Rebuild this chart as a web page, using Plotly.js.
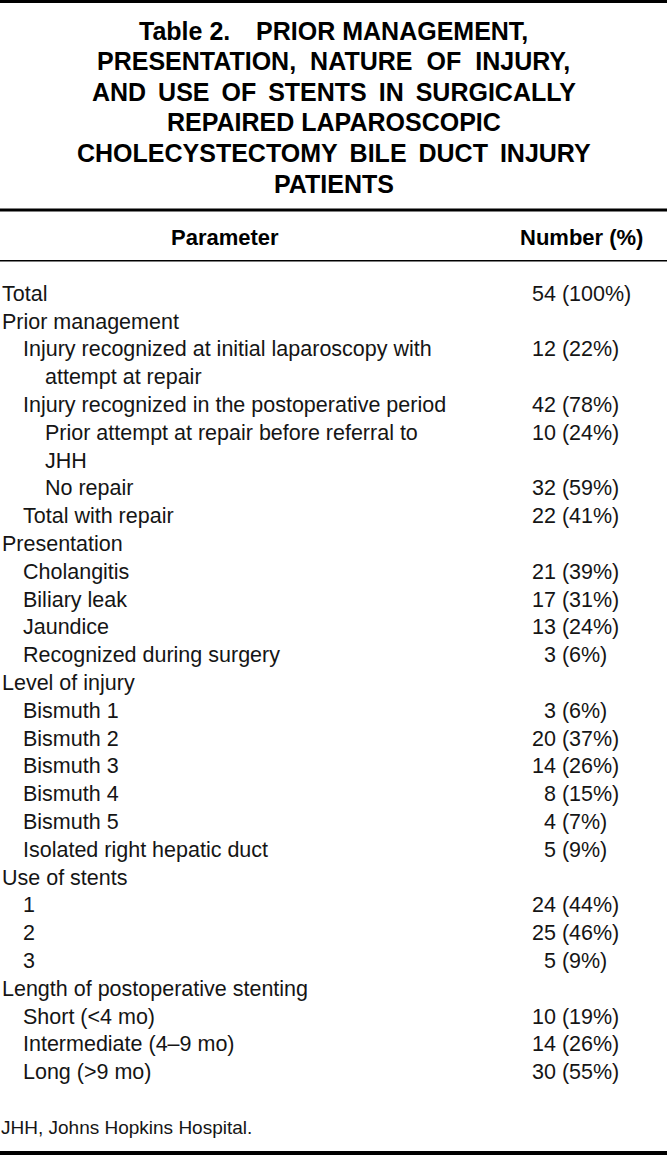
<!DOCTYPE html>
<html>
<head>
<meta charset="utf-8">
<script src="https://cdn.plot.ly/plotly-3.0.1.min.js"></script>
<style>html,body{margin:0;padding:0;background:#fff;}#chart{width:667px;height:1155px;}</style>
</head>
<body>
<div id="chart"></div>
<script>
const titleLines = [
  "Table 2.   PRIOR MANAGEMENT,",
  "PRESENTATION, NATURE OF INJURY,",
  "AND USE OF STENTS IN SURGICALLY",
  "REPAIRED LAPAROSCOPIC",
  "CHOLECYSTECTOMY BILE DUCT INJURY",
  "PATIENTS"
];
const columnHeaders = ["Parameter", "Number (%)"];
const parameterLabels = [
  "Total",
  "Prior management",
  "Injury recognized at initial laparoscopy with|attempt at repair",
  "Injury recognized in the postoperative period",
  "Prior attempt at repair before referral to|JHH",
  "No repair",
  "Total with repair",
  "Presentation",
  "Cholangitis",
  "Biliary leak",
  "Jaundice",
  "Recognized during surgery",
  "Level of injury",
  "Bismuth 1",
  "Bismuth 2",
  "Bismuth 3",
  "Bismuth 4",
  "Bismuth 5",
  "Isolated right hepatic duct",
  "Use of stents",
  "1",
  "2",
  "3",
  "Length of postoperative stenting",
  "Short (<4 mo)",
  "Intermediate (4–9 mo)",
  "Long (>9 mo)"
];
const indentLevels = [0,0,1,1,2,2,1,0,1,1,1,1,0,1,1,1,1,1,1,0,1,1,1,0,1,1,1];
const counts   = [54,null,12,42,10,32,22,null,21,17,13,3,null,3,20,14,8,4,5,null,24,25,5,null,10,14,30];
const percents = [100,null,22,78,24,59,41,null,39,31,24,6,null,6,37,26,15,7,9,null,44,46,9,null,19,26,55];
const footnote = "JHH, Johns Hopkins Hospital.";

// ---- layout constants ----
const W = 667, H = 1155;
const FONT = "Liberation Sans, Arial, Helvetica, sans-serif";
const indentX = [2, 23, 45];
const continuationX = 45;
const numberX = 532;
const firstRowY = 295.5, rowPitch = 27.8;
const titleY0 = 30.5, titlePitch = 30.6;
const titleWordGap = ["\u00a0", "\u00a0\u2009\u200a", "\u00a0\u2009", "\u00a0", "\u00a0\u2009", "\u00a0"];

function esc(s){ return s.replace(/&/g,"&amp;").replace(/</g,"&lt;").replace(/>/g,"&gt;"); }

const lx = [], ly = [], lt = [];
const nx = [], ny = [], nt = [];
let line = 0;
parameterLabels.forEach((lab, i) => {
  const parts = lab.split("|");
  const yTop = firstRowY + line * rowPitch;
  parts.forEach((p, k) => {
    lx.push(k === 0 ? indentX[indentLevels[i]] : continuationX);
    ly.push(firstRowY + line * rowPitch);
    lt.push(esc(p));
    line++;
  });
  if (counts[i] !== null) {
    const pad = counts[i] < 10 ? "\u2007" : "";
    nx.push(numberX); ny.push(yTop);
    nt.push(pad + counts[i] + " (" + percents[i] + "%)");
  }
});

const bodyFont = {family:FONT, size:21.5, color:"#151515"};
const traces = [
  {type:"scatter", mode:"text", x:lx, y:ly, text:lt, textposition:"middle right",
   textfont:bodyFont, hoverinfo:"skip", showlegend:false, cliponaxis:false},
  {type:"scatter", mode:"text", x:nx, y:ny, text:nt, textposition:"middle right",
   textfont:bodyFont, hoverinfo:"skip", showlegend:false, cliponaxis:false}
];

const annotations = [];
titleLines.forEach((t, i) => {
  let s = t.replace("   ", "\u00a0\u00a0\u00a0\u2009");
  s = s.replace(/ /g, titleWordGap[i]);
  annotations.push({xref:"x", yref:"y", x:W/2, y:titleY0 + i*titlePitch, text:"<b>" + s + "</b>", showarrow:false,
    xanchor:"center", yanchor:"middle", font:{family:FONT, size:25, color:"#000"}});
});
annotations.push({xref:"x", yref:"y", x:224.5, y:237, text:"<b>"+columnHeaders[0]+"</b>", showarrow:false,
  xanchor:"center", yanchor:"middle", font:{family:FONT, size:22, color:"#000"}});
annotations.push({xref:"x", yref:"y", x:581, y:237, text:"<b>"+columnHeaders[1]+"</b>", showarrow:false,
  xanchor:"center", yanchor:"middle", font:{family:FONT, size:22, color:"#000"}});
annotations.push({xref:"x", yref:"y", x:0, xshift:-1, y:1127, text:footnote, showarrow:false,
  xanchor:"left", yanchor:"middle", font:{family:FONT, size:19, color:"#151515"}});

const shapes = [
  {type:"line", xref:"paper", yref:"y", x0:0, x1:1, y0:1.5, y1:1.5, line:{color:"#000", width:3}},
  {type:"line", xref:"paper", yref:"y", x0:0, x1:1, y0:210, y1:210, line:{color:"#000", width:3}},
  {type:"line", xref:"paper", yref:"y", x0:0, x1:1, y0:260.8, y1:260.8, line:{color:"#000", width:1.6}},
  {type:"line", xref:"paper", yref:"y", x0:0, x1:1, y0:1153, y1:1153, line:{color:"#000", width:4}}
];

const layout = {
  width:W, height:H, margin:{l:0,r:0,t:0,b:0,pad:0},
  paper_bgcolor:"#fff", plot_bgcolor:"#fff",
  xaxis:{range:[0,W], visible:false, fixedrange:true},
  yaxis:{range:[H,0], visible:false, fixedrange:true},
  annotations, shapes, showlegend:false
};
Plotly.newPlot("chart", traces, layout, {staticPlot:true, displayModeBar:false});
</script>
</body>
</html>
